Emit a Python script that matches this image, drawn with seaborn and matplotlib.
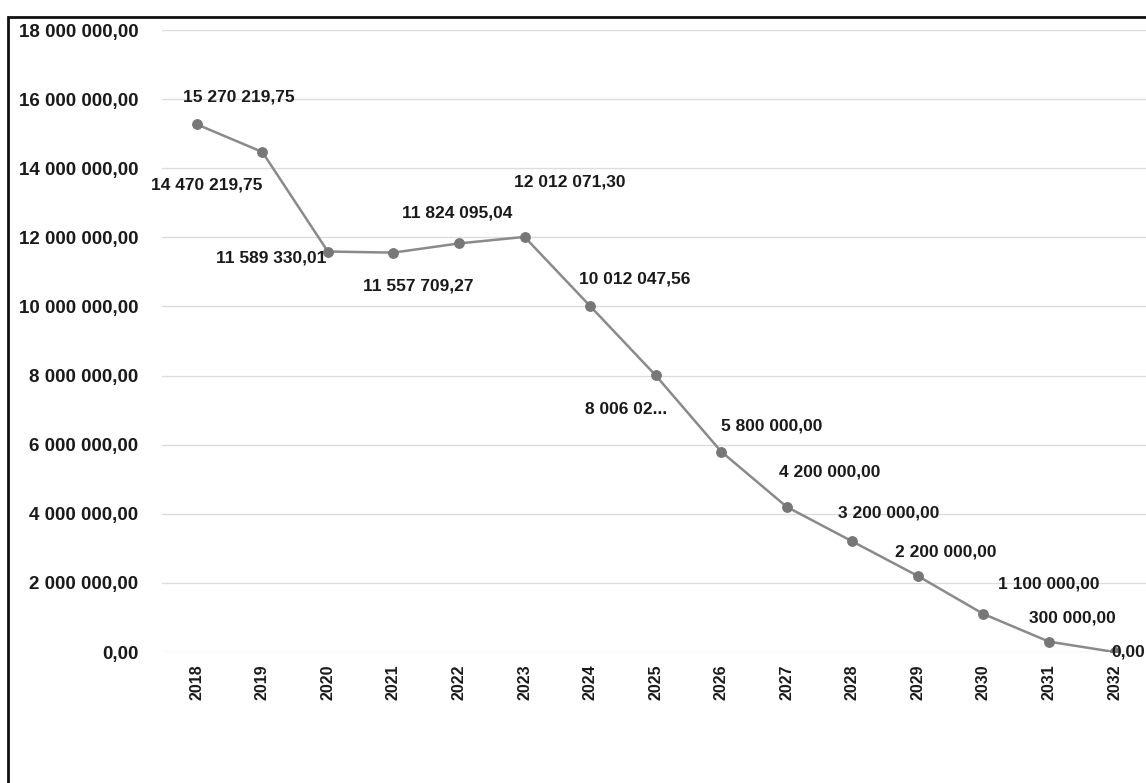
import matplotlib
matplotlib.use("Agg")
import numpy as np
import pandas as pd
import seaborn as sns
from matplotlib import pyplot as plt
from matplotlib.patches import Rectangle
from matplotlib.ticker import FuncFormatter

years = ["2018", "2019", "2020", "2021", "2022", "2023", "2024", "2025",
         "2026", "2027", "2028", "2029", "2030", "2031", "2032"]
debt = [15270219.75, 14470219.75, 11589330.01, 11557709.27, 11824095.04,
        12012071.30, 10012047.56, 8006023.00, 5800000.00, 4200000.00,
        3200000.00, 2200000.00, 1100000.00, 300000.00, 0.00]
# label offsets in pixels (dx, dy, ha)
label_pos = [(42, 27, "center"), (-56, -33, "center"), (-1, -6, "right"),
             (25, -33, "center"), (-2, 30, "center"), (45, 55, "center"),
             (45, 27, "center"), (-30, -34, "center"), (50, 26, "center"),
             (43, 35, "center"), (36, 28, "center"), (28, 24, "center"),
             (65, 30, "center"), (23, 24, "center"), (14, 0, "center")]


def fmt(v, pos=None):
    # Excel style: space thousands, comma decimals
    return f"{v:,.2f}".replace(",", " ").replace(".", ",")


df = pd.DataFrame({"year": years, "debt": debt})

sns.set_theme(style="white")
plt.rcParams["font.family"] = ["Liberation Sans", "DejaVu Sans"]

fig = plt.figure(figsize=(11.46, 7.83), dpi=100)
ax = fig.add_axes([162 / 1146, 1 - 652 / 783, 1 - 162 / 1146, 622 / 783])

sns.lineplot(data=df, x="year", y="debt", ax=ax, color="#8a8a8a",
             linewidth=1.8, marker="o", markersize=7,
             markerfacecolor="#777777", markeredgecolor="#777777")

for i, (v, (dx, dy, ha)) in enumerate(zip(debt, label_pos)):
    txt = fmt(v)
    if i == 7:
        txt = txt[:8] + "..."
    ax.annotate(txt, (i, v), xytext=(dx * 0.72, dy * 0.72),
                textcoords="offset points", ha=ha, va="center",
                fontsize=12.5, fontweight="bold", color="#1a1a1a",
                annotation_clip=False)

ax.set_ylim(0, 18000000)
ax.set_yticks(np.arange(0, 18000001, 2000000))
ax.yaxis.set_major_formatter(FuncFormatter(fmt))
ax.set_xlim(-0.53, 14.48)
ax.grid(axis="y", color="#dcdcdc", linewidth=1)
ax.set_xlabel("")
ax.set_ylabel("")
for s in ax.spines.values():
    s.set_visible(False)
ax.tick_params(axis="y", length=0, pad=17, labelsize=13.5)
ax.tick_params(axis="x", length=0, pad=9, labelsize=11.5, rotation=90)
for t in ax.get_yticklabels() + ax.get_xticklabels():
    t.set_fontweight("bold")
    t.set_color("#1a1a1a")

# outer frame of the pasted chart
fig.patches.append(Rectangle((8 / 1146, -0.05), 1.2, 1 - 17 / 783 + 0.05,
                             transform=fig.transFigure, fill=False,
                             edgecolor="#111111", linewidth=2))

fig.savefig("out.png", dpi=100)
